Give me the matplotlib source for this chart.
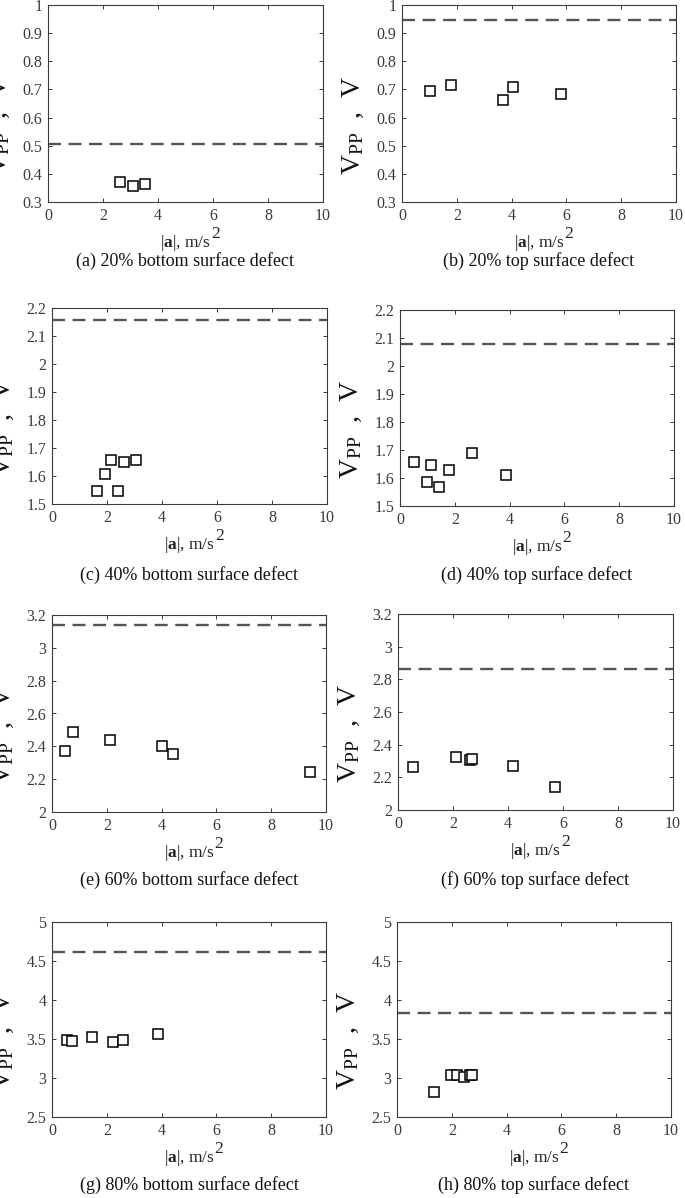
import matplotlib
matplotlib.use("Agg")
import matplotlib.pyplot as plt

plt.rcParams['font.family'] = ['Liberation Serif', 'DejaVu Serif']
plt.rcParams['mathtext.fontset'] = 'custom'
plt.rcParams['mathtext.rm'] = 'Liberation Serif'
plt.rcParams['mathtext.it'] = 'Liberation Serif:italic'
plt.rcParams['mathtext.bf'] = 'Liberation Serif:bold'

# data: acceleration magnitude vs peak-to-peak voltage
a_20_bottom = [2.61, 3.09, 3.51]
v_20_bottom = [0.372, 0.357, 0.363]
ref_20_bottom = 0.507

a_20_top = [1.04, 1.80, 3.68, 4.06, 5.81]
v_20_top = [0.695, 0.715, 0.661, 0.707, 0.685]
ref_20_top = 0.947

a_40_bottom = [1.64, 1.93, 2.13, 2.39, 2.62, 3.07]
v_40_bottom = [1.545, 1.607, 1.658, 1.545, 1.650, 1.658]
ref_40_bottom = 2.158

a_40_top = [0.51, 0.97, 1.13, 1.42, 1.78, 2.64, 3.86]
v_40_top = [1.656, 1.585, 1.646, 1.568, 1.630, 1.688, 1.611]
ref_40_top = 2.080

a_60_bottom = [0.48, 0.76, 2.12, 4.02, 4.41, 9.43]
v_60_bottom = [2.371, 2.488, 2.437, 2.402, 2.355, 2.241]
ref_60_bottom = 3.139

a_60_top = [0.56, 2.12, 2.63, 2.70, 4.17, 5.70]
v_60_top = [2.261, 2.322, 2.304, 2.310, 2.270, 2.139]
ref_60_top = 2.861

a_80_bottom = [0.56, 0.74, 1.47, 2.22, 2.59, 3.86]
v_80_bottom = [3.49, 3.48, 3.53, 3.46, 3.49, 3.56]
ref_80_bottom = 4.62

a_80_top = [1.34, 1.97, 2.18, 2.43, 2.68, 2.74]
v_80_top = [2.82, 3.04, 3.04, 3.01, 3.04, 3.04]
ref_80_top = 3.83

captions = ['(a) 20% bottom surface defect', '(b) 20% top surface defect',
            '(c) 40% bottom surface defect', '(d) 40% top surface defect',
            '(e) 60% bottom surface defect', '(f) 60% top surface defect',
            '(g) 80% bottom surface defect', '(h) 80% top surface defect']

panels = [
    (a_20_bottom, v_20_bottom, ref_20_bottom, (0.3, 1.0), [0.3, 0.4, 0.5, 0.6, 0.7, 0.8, 0.9, 1.0]),
    (a_20_top, v_20_top, ref_20_top, (0.3, 1.0), [0.3, 0.4, 0.5, 0.6, 0.7, 0.8, 0.9, 1.0]),
    (a_40_bottom, v_40_bottom, ref_40_bottom, (1.5, 2.2), [1.5, 1.6, 1.7, 1.8, 1.9, 2.0, 2.1, 2.2]),
    (a_40_top, v_40_top, ref_40_top, (1.5, 2.2), [1.5, 1.6, 1.7, 1.8, 1.9, 2.0, 2.1, 2.2]),
    (a_60_bottom, v_60_bottom, ref_60_bottom, (2.0, 3.2), [2.0, 2.2, 2.4, 2.6, 2.8, 3.0, 3.2]),
    (a_60_top, v_60_top, ref_60_top, (2.0, 3.2), [2.0, 2.2, 2.4, 2.6, 2.8, 3.0, 3.2]),
    (a_80_bottom, v_80_bottom, ref_80_bottom, (2.5, 5.0), [2.5, 3.0, 3.5, 4.0, 4.5, 5.0]),
    (a_80_top, v_80_top, ref_80_top, (2.5, 5.0), [2.5, 3.0, 3.5, 4.0, 4.5, 5.0]),
]

# axes boxes in pixels (left, top, right, bottom) and caption offset below axes
W, H = 685, 1198
boxes = [(48, 5, 323, 202), (402, 5, 676, 202),
         (52, 308, 327, 504), (400, 310, 674, 506),
         (52, 615, 326, 812), (398, 614, 673, 810),
         (52, 922, 326, 1117), (397, 922, 671, 1117)]
cap_gap = [59, 59, 71, 69, 68, 70, 68, 68]

grey = '#3a3a3a'

fig = plt.figure(figsize=(W / 100, H / 100), dpi=100)
axes = []

for i, (xs, ys, ref, ylim, yticks) in enumerate(panels):
    l, t, r, b = boxes[i]
    ax = fig.add_axes([l / W, 1 - b / H, (r - l) / W, (b - t) / H])
    ax.axhline(ref, color='#555555', lw=1.7, ls=(0, (5.5, 3.2)))
    ax.plot(xs, ys, ls='none', marker='s', ms=6.5, mfc='white', mec='black', mew=1.1)
    ax.set_xlim(0, 10)
    ax.set_ylim(*ylim)
    ax.set_xticks([0, 2, 4, 6, 8, 10])
    ax.set_yticks(yticks)
    ax.set_yticklabels(['%g' % v for v in yticks])
    ax.tick_params(direction='in', length=3, width=0.7, colors=grey, labelsize=11.5,
                   top=True, right=True, pad=4)
    for sp in ax.spines.values():
        sp.set_color(grey)
        sp.set_linewidth(0.8)
    ax.set_xlabel(r'$|\mathbf{a}|$, m/s', fontsize=12.5, color='#222222', labelpad=7)
    ax.set_ylabel(r'V$_{\mathrm{PP}}$  ,  V', fontsize=20, color='#111111')
    ax.yaxis.set_label_coords(-0.13, 0.39)
    ax.text(0.5, -cap_gap[i] / (b - t), captions[i], transform=ax.transAxes,
            ha='center', va='center', fontsize=13, color='#111111')
    axes.append(ax)

# MATLAB-style large superscript on the x label
fig.canvas.draw()
for ax in axes:
    bb = ax.xaxis.label.get_window_extent()
    fig.text((bb.x1 + 0.2) / W, ((bb.y0 + bb.y1) / 2 + 1) / H, '2', fontsize=12.5,
             color='#222222', ha='left', va='bottom')

fig.savefig('out.png', dpi=100)
